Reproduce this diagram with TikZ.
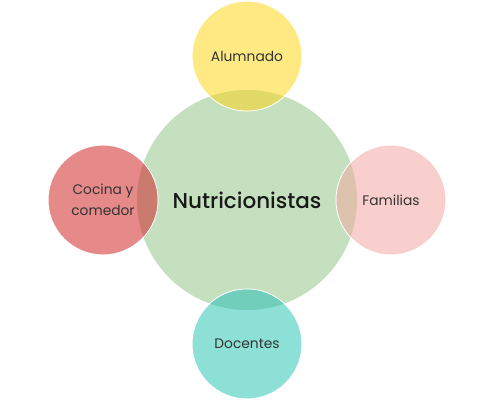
\documentclass[tikz,border=0pt]{standalone}
\usepackage{fontspec}
\setmainfont{Poppins}
\newfontfamily\hubfont{Poppins Medium}
\usetikzlibrary{positioning}
\definecolor{hubgreen}{HTML}{C5E0BE}
\definecolor{satyellow}{HTML}{FEE983}
\definecolor{satred}{HTML}{E58A89}
\definecolor{satpink}{HTML}{F8CFCC}
\definecolor{satteal}{HTML}{8CE0D6}
\definecolor{lensyellow}{HTML}{E1DA66}
\definecolor{lensred}{HTML}{CB7A6E}
\definecolor{lenspink}{HTML}{DDC3AE}
\definecolor{lensteal}{HTML}{70CEBA}

\begin{document}
\begin{tikzpicture}
\tikzset{
    every node/.style = {circle, outer sep=0pt, inner sep=0pt, align=center},
    hub/.style = {fill=hubgreen, minimum size=220pt, font=\hubfont\fontsize{21.5}{26}\selectfont, text=black!90},
    sat/.style = {draw=white, line width=1pt, minimum size=110pt},
    label/.style = {font=\fontsize{13.8}{20.5}\selectfont, text=black!80}
}
\useasboundingbox (0,0) rectangle (495pt,400pt);

% -------------------------------------------------------
\node[hub] (hub) at (247pt,200pt) {};

\node[sat, fill=satyellow, above=89pt] (alumnado) at (hub) {};
\node[sat, fill=satred, left=89pt] (cocina) at (hub) {};
\node[sat, fill=satpink, right=89pt] (familias) at (hub) {};
\node[sat, fill=satteal, below=89pt] (docentes) at (hub) {};

% -------------------------------------------------------
\begin{scope}
\clip (hub.center) circle (110pt);
\fill[lensyellow] (alumnado.center) circle (54.5pt);
\fill[lensred] (cocina.center) circle (54.5pt);
\fill[lenspink] (familias.center) circle (54.5pt);
\fill[lensteal] (docentes.center) circle (54.5pt);
\end{scope}

\node[hub, fill=none] (hubtext) at (hub) {Nutricionistas};
\node[label] (alumnadotext) at (alumnado) {Alumnado};
\node[label] (cocinatext) at (cocina) {Cocina y\\comedor};
\node[label] (familiastext) at (familias) {Familias};
\node[label] (docentestext) at (docentes) {Docentes};
\end{tikzpicture}
\end{document}
